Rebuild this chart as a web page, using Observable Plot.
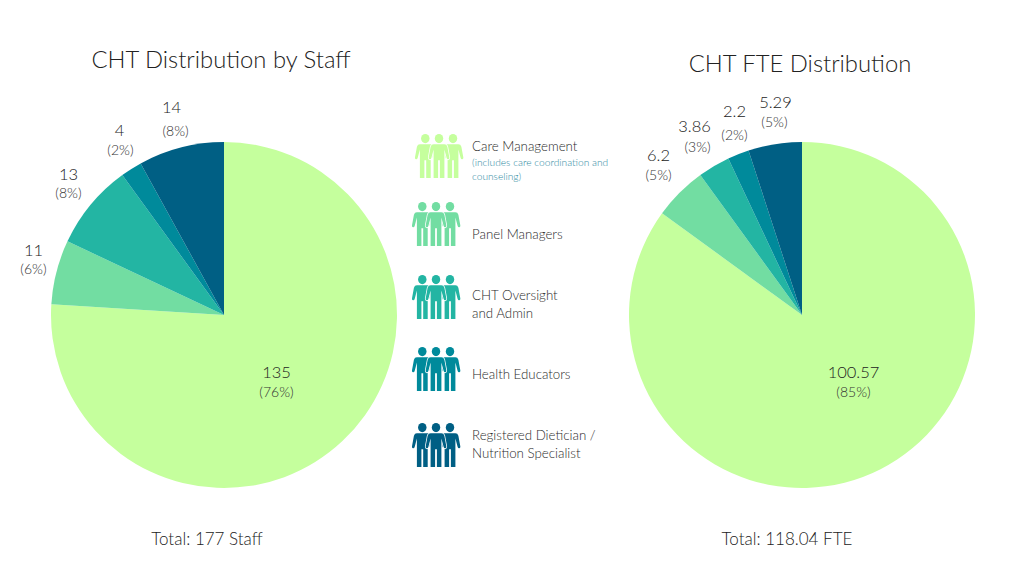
<!DOCTYPE html>
<html>
<head>
<meta charset="utf-8">
<script src="https://cdn.jsdelivr.net/npm/d3@7"></script>
<script src="https://cdn.jsdelivr.net/npm/@observablehq/plot@0.6"></script>
<style>
  html, body { margin: 0; padding: 0; background: #fff; }
  body { width: 1024px; height: 576px; position: relative; overflow: hidden;
         font-family: Lato, sans-serif; font-weight: 300; color: #222; }
  .abs { position: absolute; white-space: nowrap; }
  .title { font-size: 23.8px; transform: translateX(-50%); line-height: 30px; }
  .total { font-size: 17px; transform: translateX(-50%); line-height: 22px; }
  .leg { font-size: 13.3px; line-height: 18px; color: #2b2b2b; }
  .leg small { display: block; font-size: 10.2px; line-height: 13.5px; color: #2f8a9f; margin-top: 1px; }
  svg { overflow: visible; }
</style>
</head>
<body>
<script>
// ---- data ----
const categories = ["Care Management", "Panel Managers", "CHT Oversight and Admin", "Health Educators", "Registered Dietician / Nutrition Specialist"];
const palette = ["#c5ff9d", "#72dda2", "#23b5a3", "#008a9b", "#005f84"];
const staffValues = ["135", "11", "13", "4", "14"];
const staffShares = [76, 6, 8, 2, 8];
const fteValues = ["100.57", "6.2", "3.86", "2.2", "5.29"];
const fteShares = [85, 5, 3, 2, 5];

// ---- label layout (distance from centre along each slice's mid-angle, plus nudges) ----
const staffLayout = { radius: [76, 197.2, 202.5, 196, 213], dy: [1.6, -16, -12, -19.5, -1.7], gap: [20, 19, 19, 20, 24], dx: [0, 0, 0, 1, 4] };
const fteLayout = { radius: [112.3, 203.6, 212, 184.8, 173], dy: [-43, -16, -6.4, -32, -42], gap: [20, 20, 21, 24, 20], dx: [0, 0, 3, 0, -1] };
const pieRadius = 173;

function pie(values, shares, layout) {
  let running = 0;
  const rows = categories.map((category, i) => {
    const mid = running + shares[i] / 2;
    running += shares[i];
    return { category, share: shares[i], label: values[i], mid, percent: `(${shares[i]}%)` };
  });
  const arcs = (index, scales, v, dim) => {
    const cx = dim.width / 2, cy = dim.height / 2;
    const arc = d3.arc().innerRadius(0).outerRadius(pieRadius);
    const g = d3.create("svg:g").attr("transform", `translate(${cx},${cy})`);
    g.selectAll("path").data(index).join("path")
      .attr("d", i => arc({ startAngle: v.x1[i], endAngle: v.x2[i] }))
      .attr("fill", i => v.fill[i]);
    return g.node();
  };
  const place = pct => (index, scales, v, dim, ctx, next) => {
    const cx = dim.width / 2, cy = dim.height / 2;
    const X = new Float64Array(rows.length), Y = new Float64Array(rows.length);
    for (const i of index) {
      const a = v.x[i];
      X[i] = cx + layout.radius[i] * Math.sin(a) + (pct ? layout.dx[i] : 0);
      Y[i] = cy - layout.radius[i] * Math.cos(a) + layout.dy[i] + (pct ? layout.gap[i] : 0);
    }
    return next(index, scales, { ...v, x: X, y: Y }, dim, ctx);
  };
  return Plot.plot({
    width: 448, height: 460, margin: 0,
    style: { background: "transparent", fontFamily: "Lato, sans-serif", fontWeight: 300 },
    x: { domain: [0, d3.sum(shares)], range: [0, 2 * Math.PI], axis: null },
    y: { axis: null },
    color: { domain: categories, range: palette },
    marks: [
      Plot.rectX(rows, Plot.stackX({ x: "share", fill: "category", order: null, render: arcs })),
      Plot.text(rows, { x: "mid", text: "label", fontSize: 16.5, fill: "#222", render: place(false) }),
      Plot.text(rows, { x: "mid", text: "percent", fontSize: 14, fill: "#333", render: place(true) })
    ]
  });
}

function addAbs(el, left, top) {
  el.style.position = "absolute"; el.style.left = left + "px"; el.style.top = top + "px";
  document.body.appendChild(el);
}
addAbs(pie(staffValues, staffShares, staffLayout), 0, 85);
addAbs(pie(fteValues, fteShares, fteLayout), 578, 85);

function text(cls, html, left, top) {
  const d = document.createElement("div");
  d.className = "abs " + cls; d.innerHTML = html; d.style.left = left + "px"; d.style.top = top + "px";
  document.body.appendChild(d);
}
text("title", "CHT Distribution by Staff", 221, 44);
text("title", "CHT FTE Distribution", 800, 48);
text("total", "Total: 177 Staff", 207, 528);
text("total", "Total: 118.04 FTE", 787, 528);

// ---- legend ----
const personPath = "M-6 10.5H6Q8.5 10.5 9.3 13L11.5 24Q11.6 26 10 26Q9 26 8.5 24.5L6 16V45H1V27H-1V45H-6V16L-8.5 24.5Q-9 26-10 26Q-11.6 26-11.5 24L-9.3 13Q-8.5 10.5-6 10.5Z";
function icon(color, left, top) {
  const s = d3.create("svg").attr("width", 48).attr("height", 44).style("position", "absolute").style("left", left + "px").style("top", top + "px");
  for (const [cx, sw] of [[10.3, 0], [38, 0], [24, 1.6]]) {
    const g = s.append("g").attr("transform", `translate(${cx},0) scale(.9,.975)`);
    g.append("circle").attr("cy", 4.7).attr("r", 4.7).attr("fill", color);
    g.append("path").attr("d", personPath).attr("fill", color).attr("stroke", "#fff").attr("stroke-width", sw).attr("paint-order", "stroke");
  }
  document.body.appendChild(s.node());
}
const legendIconTop = [134, 202, 275, 347, 422.5];
const legendIconLeft = [415.4, 412, 412, 412, 412];
const legendTextTop = [137, 225, 286, 365, 426];
const legendHtml = [
  `Care Management<small>(includes care coordination and<br>counseling)</small>`,
  `Panel Managers`,
  `CHT Oversight<br>and Admin`,
  `Health Educators`,
  `Registered Dietician /<br>Nutrition Specialist`
];
legendHtml.forEach((html, i) => {
  icon(palette[i], legendIconLeft[i], legendIconTop[i]);
  text("leg", html, 472, legendTextTop[i]);
});
</script>
</body>
</html>
